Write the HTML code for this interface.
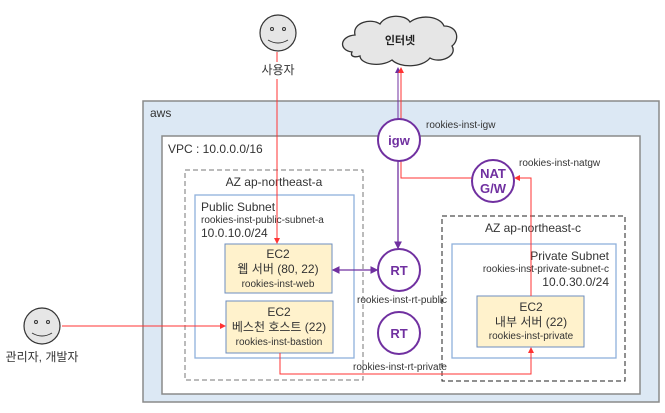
<!DOCTYPE html>
<html><head><meta charset="utf-8"><style>
body{margin:0;background:#fff}
svg{font-family:"Liberation Sans","Noto Sans CJK KR",sans-serif}
</style></head><body>
<svg width="665" height="408" xmlns="http://www.w3.org/2000/svg">
<defs>
<marker id="ar" markerWidth="6" markerHeight="6" refX="5" refY="3" orient="auto"><path d="M0,0L6,3L0,6z" fill="#ff3333"/></marker>
<marker id="ap" markerWidth="6" markerHeight="6" refX="5" refY="3" orient="auto-start-reverse"><path d="M0,0L6,3L0,6z" fill="#7030a0"/></marker>
</defs>
<rect x="143" y="101" width="516" height="301" fill="#dce8f4" stroke="#8a8a8a" stroke-width="1.5"/>
<text x="150" y="117" font-size="12" fill="#333">aws</text>
<rect x="162" y="136" width="478" height="258" fill="#fff" stroke="#8a8a8a" stroke-width="1.5"/>
<text x="168" y="153" font-size="12" fill="#333">VPC : 10.0.0.0/16</text>
<rect x="185" y="170" width="178" height="210" fill="none" stroke="#777" stroke-dasharray="5,3"/>
<text x="274" y="186" font-size="12" fill="#333" text-anchor="middle">AZ ap-northeast-a</text>
<rect x="195" y="195" width="159" height="163" fill="#fff" stroke="#8fb0dc" stroke-width="1.3"/>
<text x="201" y="211" font-size="12" fill="#333">Public Subnet</text>
<text x="201" y="223" font-size="10" fill="#333">rookies-inst-public-subnet-a</text>
<text x="201" y="237" font-size="12" fill="#333">10.0.10.0/24</text>
<rect x="225" y="244" width="107" height="49" fill="#fff2cc" stroke="#6c8ebf"/>
<text x="278" y="258" font-size="12" text-anchor="middle" fill="#333">EC2</text>
<text x="278" y="273" font-size="12" text-anchor="middle" fill="#333">웹 서버 (80, 22)</text>
<text x="278" y="287" font-size="10" text-anchor="middle" fill="#333">rookies-inst-web</text>
<rect x="226" y="301" width="107" height="52" fill="#fff2cc" stroke="#6c8ebf"/>
<text x="279" y="316" font-size="12" text-anchor="middle" fill="#333">EC2</text>
<text x="279" y="331" font-size="12" text-anchor="middle" fill="#333">베스천 호스트 (22)</text>
<text x="279" y="345" font-size="10" text-anchor="middle" fill="#333">rookies-inst-bastion</text>
<rect x="442" y="216" width="183" height="165" fill="none" stroke="#222" stroke-dasharray="5,3"/>
<text x="533" y="232" font-size="12" fill="#333" text-anchor="middle">AZ ap-northeast-c</text>
<rect x="452" y="244" width="164" height="114" fill="#fff" stroke="#8fb0dc" stroke-width="1.3"/>
<text x="609" y="260" font-size="12" fill="#333" text-anchor="end">Private Subnet</text>
<text x="609" y="272" font-size="10" fill="#333" text-anchor="end">rookies-inst-private-subnet-c</text>
<text x="609" y="286" font-size="12" fill="#333" text-anchor="end">10.0.30.0/24</text>
<rect x="477" y="296" width="107" height="51" fill="#fff2cc" stroke="#6c8ebf"/>
<text x="531" y="311" font-size="12" text-anchor="middle" fill="#333">EC2</text>
<text x="531" y="326" font-size="12" text-anchor="middle" fill="#333">내부 서버 (22)</text>
<text x="531" y="339" font-size="10" text-anchor="middle" fill="#333">rookies-inst-private</text>
<!-- lines -->
<line x1="277" y1="52" x2="277" y2="62" stroke="#ff3333"/>
<line x1="277" y1="79" x2="277" y2="243" stroke="#ff3333" marker-end="url(#ar)"/>
<line x1="62" y1="326" x2="225" y2="326" stroke="#ff3333" marker-end="url(#ar)"/>
<line x1="398" y1="119" x2="398" y2="68" stroke="#7030a0" marker-end="url(#ap)"/>
<line x1="401" y1="119" x2="401" y2="68" stroke="#ff3333" marker-end="url(#ar)"/>
<polyline points="401,161 401,178 472,178" fill="none" stroke="#ff3333"/>
<polyline points="531,296 531,178 515,178" fill="none" stroke="#ff3333" marker-end="url(#ar)"/>
<polyline points="280,353 280,374 531,374 531,348" fill="none" stroke="#ff3333" marker-end="url(#ar)"/>
<line x1="398" y1="161" x2="398" y2="248" stroke="#7030a0" stroke-width="1.3" marker-end="url(#ap)"/>
<line x1="333" y1="270" x2="377" y2="270" stroke="#7030a0" stroke-width="1.3" marker-start="url(#ap)" marker-end="url(#ap)"/>
<!-- circles -->
<g fill="#fff" stroke="#7030a0" stroke-width="2">
<circle cx="399" cy="140" r="21"/><circle cx="493" cy="181" r="21"/>
<circle cx="399" cy="270" r="21"/><circle cx="399" cy="333" r="21"/></g>
<g font-size="13" font-weight="bold" fill="#7030a0" text-anchor="middle">
<text x="399" y="145">igw</text><text x="493" y="178">NAT</text><text x="493" y="193">G/W</text>
<text x="399" y="275">RT</text><text x="399" y="338">RT</text></g>
<g font-size="10" fill="#333">
<text x="426" y="128">rookies-inst-igw</text>
<text x="519" y="166">rookies-inst-natgw</text>
<text x="357" y="303">rookies-inst-rt-public</text>
<text x="353" y="370">rookies-inst-rt-private</text></g>
<!-- cloud -->
<path d="M352,52 C338,50 340,36 355,35 C352,22 372,18 380,24 C386,14 405,14 410,22 C420,14 440,16 444,26 C458,26 460,40 452,46 C458,56 440,64 430,58 C422,68 400,68 392,60 C380,68 360,64 360,56 C354,58 350,56 352,52Z" fill="#e6e6e6" stroke="#333" stroke-width="1.3"/>
<text x="400" y="44" font-size="11" font-weight="bold" text-anchor="middle" fill="#222">인터넷</text>
<!-- smileys -->
<g fill="#e6e6e6" stroke="#333" stroke-width="1.2"><circle cx="278" cy="33" r="18"/><circle cx="42" cy="326" r="18"/></g>
<g fill="none" stroke="#333" stroke-width="1"><circle cx="272" cy="29" r="1.5"/><circle cx="284" cy="29" r="1.5"/><path d="M268,40 Q278,46 288,40"/>
<circle cx="36" cy="322" r="1.5"/><circle cx="48" cy="322" r="1.5"/><path d="M32,333 Q42,339 52,333"/></g>
<text x="278" y="74" font-size="12" text-anchor="middle" fill="#333">사용자</text>
<text x="42" y="361" font-size="12" text-anchor="middle" fill="#333">관리자, 개발자</text>
</svg>
</body></html>
